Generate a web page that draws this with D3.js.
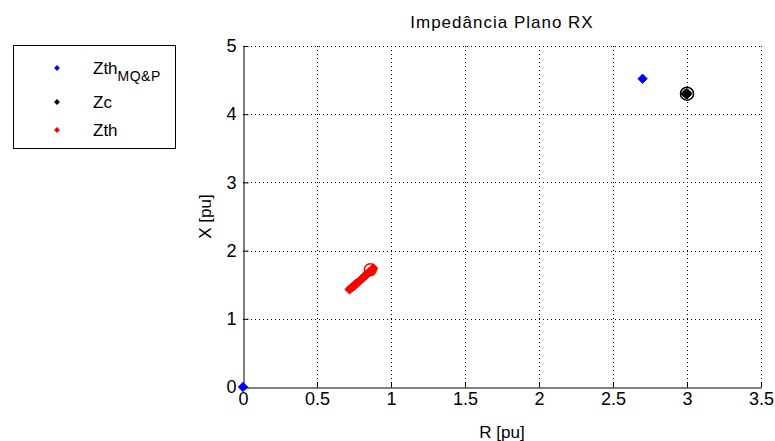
<!DOCTYPE html>
<html>
<head>
<meta charset="utf-8">
<script src="https://cdn.jsdelivr.net/npm/d3@7"></script>
<style>
  body { margin: 0; background: #fff; }
  text { font-family: "Liberation Sans", Arial, sans-serif; fill: #000; }
</style>
</head>
<body>
<script>
// dados
const xTicks = [0, 0.5, 1, 1.5, 2, 2.5, 3, 3.5]
const yTicks = [0, 1, 2, 3, 4, 5]
const zthMQP = [[0, 0], [2.7, 4.52]]
const zc = [[3.0, 4.31], [3.0, 4.29], [2.99, 4.3]]
const zth = [[0.72, 1.43], [0.735, 1.46], [0.75, 1.48], [0.76, 1.51], [0.775, 1.53],
    [0.79, 1.56], [0.8, 1.58], [0.815, 1.61], [0.83, 1.64], [0.84, 1.66],
    [0.855, 1.69], [0.87, 1.71], [0.88, 1.74]]
const zthCircle = [0.86, 1.72]
const zcCircle = [3.0, 4.3]

const width = 775, height = 441
const margin = { left: 243, right: 14, top: 46, bottom: 54 }

const svg = d3.select("body").append("svg")
    .attr("width", width)
    .attr("height", height)

const x = d3.scaleLinear().domain([0, 3.5]).range([margin.left, width - margin.right])
const y = d3.scaleLinear().domain([0, 5]).range([height - margin.bottom, margin.top])

// grade pontilhada
const grid = svg.append("g").attr("stroke", "#000").attr("stroke-width", 1)
    .attr("stroke-dasharray", "1,3")
grid.selectAll("line.vx").data(xTicks.slice(1)).enter().append("line")
    .attr("x1", d => Math.round(x(d)) + 0.5).attr("x2", d => Math.round(x(d)) + 0.5)
    .attr("y1", y(0)).attr("y2", y(5))
grid.selectAll("line.hy").data(yTicks.slice(1)).enter().append("line")
    .attr("y1", d => Math.round(y(d)) + 0.5).attr("y2", d => Math.round(y(d)) + 0.5)
    .attr("x1", x(0)).attr("x2", x(3.5))

// eixos
const fmt = d3.format("")
const xAxis = svg.append("g")
    .attr("transform", `translate(0, ${Math.round(y(0)) + 0.5})`)
    .call(d3.axisBottom(x).tickValues(xTicks).tickSizeInner(-5).tickSizeOuter(0).tickPadding(5)
        .tickFormat(fmt))
const yAxis = svg.append("g")
    .attr("transform", `translate(${Math.round(x(0)) + 0.5}, 0)`)
    .call(d3.axisLeft(y).tickValues(yTicks).tickSizeInner(-5).tickSizeOuter(0).tickPadding(7)
        .tickFormat(fmt))
;[xAxis, yAxis].forEach(a => {
    a.select(".domain").attr("stroke", "#000")
    a.selectAll(".tick line").attr("stroke", "#000")
    a.selectAll("text").style("font-size", "18px").style("font-family", "Liberation Sans, Arial, sans-serif")
})

// titulos
svg.append("text").attr("x", (x(0) + x(3.5)) / 2).attr("y", 28)
    .attr("text-anchor", "middle").style("font-size", "17px").style("letter-spacing", "1px")
    .text("Impedância Plano RX")
svg.append("text").attr("x", (x(0) + x(3.5)) / 2).attr("y", height - 3)
    .attr("text-anchor", "middle").style("font-size", "17px").text("R [pu]")
svg.append("text")
    .attr("transform", `translate(211, ${(y(0) + y(5)) / 2}) rotate(-90)`)
    .attr("text-anchor", "middle").style("font-size", "17px").text("X [pu]")

const diamond = d3.symbol().type(d3.symbolDiamond2)

function drawSeries(data, color, size) {
    svg.append("g").selectAll("path").data(data).enter().append("path")
        .attr("transform", d => `translate(${x(d[0])}, ${y(d[1])})`)
        .attr("d", diamond.size(size))
        .attr("fill", color)
        .attr("stroke", color)
}

drawSeries(zth, "#ff0000", 55)
drawSeries(zc, "#000", 55)
drawSeries(zthMQP, "#0000ff", 55)

svg.append("circle").attr("cx", x(zthCircle[0])).attr("cy", y(zthCircle[1])).attr("r", 6)
    .attr("fill", "none").attr("stroke", "#ff0000").attr("stroke-width", 1.5)
svg.append("circle").attr("cx", x(zcCircle[0])).attr("cy", y(zcCircle[1])).attr("r", 6.5)
    .attr("fill", "none").attr("stroke", "#000").attr("stroke-width", 1.5)

// legenda
const legend = svg.append("g")
legend.append("rect").attr("x", 13.5).attr("y", 45.5).attr("width", 162).attr("height", 103)
    .attr("fill", "#fff").attr("stroke", "#000")
const legendItems = [
    { label: "Zth", sub: "MQ&P", color: "#0000ff", y: 68 },
    { label: "Zc", sub: null, color: "#000", y: 102 },
    { label: "Zth", sub: null, color: "#ff0000", y: 130 }
]
legendItems.forEach(item => {
    legend.append("path").attr("transform", `translate(57, ${item.y})`)
        .attr("d", diamond.size(22)).attr("fill", item.color)
    const t = legend.append("text").attr("x", 93).attr("y", item.y + 6).style("font-size", "17px")
    t.append("tspan").text(item.label)
    if (item.sub) {
        t.append("tspan").attr("dy", 7).style("font-size", "14px").style("letter-spacing", "0.5px")
            .text(item.sub)
    }
})
</script>
</body>
</html>
